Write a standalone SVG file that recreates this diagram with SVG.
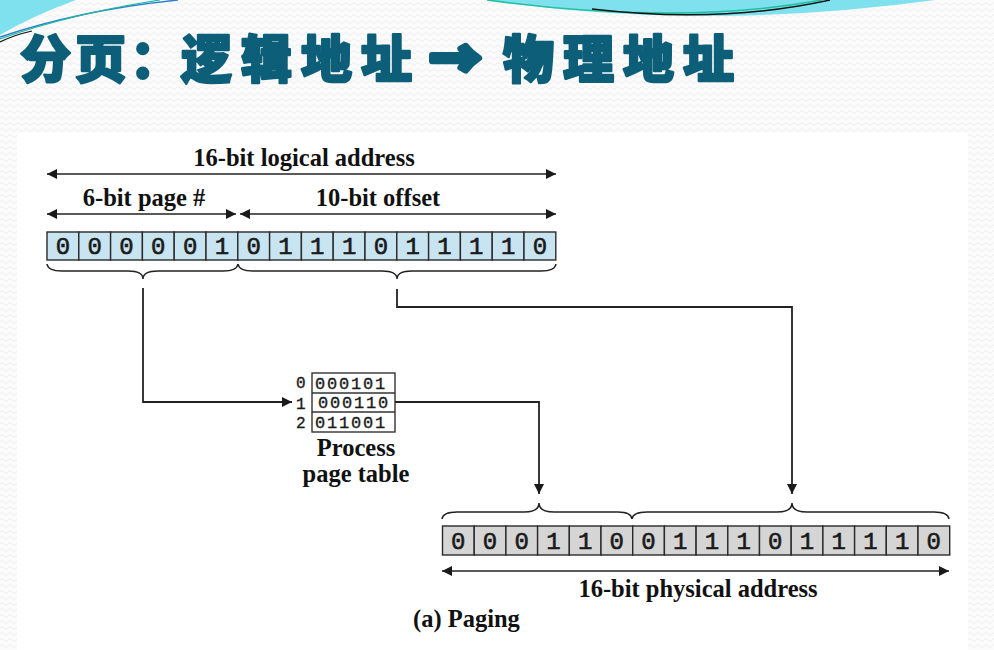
<svg xmlns="http://www.w3.org/2000/svg" width="994" height="650" viewBox="0 0 994 650">
  <defs>
    <pattern id="weave" width="8" height="6" patternUnits="userSpaceOnUse">
      <rect width="8" height="6" fill="#fbfbfb"/>
      <path d="M0 4 Q2 1 4 4 T8 4" fill="none" stroke="#efefef" stroke-width="1"/>
    </pattern>
    <marker id="head" viewBox="0 0 10 10" refX="10" refY="5" markerWidth="11" markerHeight="10" markerUnits="userSpaceOnUse" orient="auto-start-reverse">
      <path d="M0 0 L10 5 L0 10 Z" fill="#1a1a1a"/>
    </marker>
    <style>
      .title { font-family: "Noto Sans CJK SC", "Noto Sans", sans-serif; font-weight: 900; font-size: 51px; fill: #0d5e78; stroke: #0d5e78; stroke-width: 2.4; stroke-linejoin: round; }
      .title-arrow { stroke-width: 6; }
      .lbl { font-family: "Liberation Serif", "Times New Roman", serif; font-weight: bold; font-size: 24.5px; fill: #111; }
      .bit { font-family: "Liberation Mono", "Courier New", monospace; font-size: 24px; fill: #1a1a1a; stroke: #1a1a1a; stroke-width: 0.6; text-anchor: middle; }
      .pt { font-family: "Liberation Mono", "Courier New", monospace; font-size: 17px; fill: #1a1a1a; stroke: #1a1a1a; stroke-width: 0.35; letter-spacing: 1.8px; }
      .idx { font-family: "Liberation Mono", "Courier New", monospace; font-size: 16px; fill: #1a1a1a; stroke: #1a1a1a; stroke-width: 0.35; }
      .cellL { fill: #c8e4f0; stroke: #2a2a2a; stroke-width: 1.4; }
      .cellP { fill: #d5d5d5; stroke: #2a2a2a; stroke-width: 1.4; }
      .brace { fill: none; stroke: #222; stroke-width: 1.5; }
      .dim { fill: none; stroke: #222; stroke-width: 1.6; marker-start: url(#head); marker-end: url(#head); }
      .arrow { fill: none; stroke: #222; stroke-width: 1.8; marker-end: url(#head); }
    </style>
  </defs>

  <!-- slide background -->
  <rect width="994" height="650" fill="url(#weave)"/>

  <!-- top decoration swooshes -->
  <g id="decor">
    <path d="M0 0 L76 0 Q32 16 0 35 Z" fill="#7fe0ee"/>
    <path d="M0 37 Q80 10 178 0" fill="none" stroke="#2a7fd0" stroke-width="1.4"/>
    <path d="M0 39 Q70 14 160 0" fill="none" stroke="#20b8a0" stroke-width="1.2"/>
    <path d="M0 42 Q14 35 32 31" fill="none" stroke="#111" stroke-width="1.2"/>
    <path d="M487 0 Q700 32 935 0 Z" fill="#7fe0ee"/>
    <path d="M487 0 Q680 26 822 0" fill="none" stroke="#20c0a0" stroke-width="1.6"/>
    <path d="M592 9 Q720 24 830 0" fill="none" stroke="#111" stroke-width="1.4"/>
  </g>

  <!-- heading -->
  <g id="heading">
    <text class="title" x="20" y="78" letter-spacing="4">分页：</text>
    <text class="title" x="181" y="78" letter-spacing="9">逻辑地址</text>
    <text class="title title-arrow" x="430" y="78">→</text>
    <text class="title" x="503" y="78" letter-spacing="9">物理地址</text>
  </g>

  <!-- figure panel -->
  <rect x="17" y="133" width="951" height="517" fill="#ffffff"/>

  <!-- dimension labels -->
  <g id="logical-dims">
    <path class="dim" d="M47 174 H556"/>
    <text class="lbl" x="304" y="166" text-anchor="middle">16-bit logical address</text>
    <path class="dim" d="M47 214 H236"/>
    <path class="dim" d="M240 214 H556"/>
    <text class="lbl" x="144" y="206" text-anchor="middle">6-bit page #</text>
    <text class="lbl" x="378" y="206" text-anchor="middle">10-bit offset</text>
  </g>

  <!-- logical address register -->
  <g id="logical-address">
    <rect class="cellL" x="47" y="232" width="31.8" height="28"/>
    <rect class="cellL" x="78.8" y="232" width="31.8" height="28"/>
    <rect class="cellL" x="110.6" y="232" width="31.8" height="28"/>
    <rect class="cellL" x="142.4" y="232" width="31.8" height="28"/>
    <rect class="cellL" x="174.2" y="232" width="31.8" height="28"/>
    <rect class="cellL" x="206" y="232" width="31.8" height="28"/>
    <rect class="cellL" x="237.8" y="232" width="31.8" height="28"/>
    <rect class="cellL" x="269.6" y="232" width="31.8" height="28"/>
    <rect class="cellL" x="301.4" y="232" width="31.8" height="28"/>
    <rect class="cellL" x="333.2" y="232" width="31.8" height="28"/>
    <rect class="cellL" x="365" y="232" width="31.8" height="28"/>
    <rect class="cellL" x="396.8" y="232" width="31.8" height="28"/>
    <rect class="cellL" x="428.6" y="232" width="31.8" height="28"/>
    <rect class="cellL" x="460.4" y="232" width="31.8" height="28"/>
    <rect class="cellL" x="492.2" y="232" width="31.8" height="28"/>
    <rect class="cellL" x="524" y="232" width="31.8" height="28"/>
    <text class="bit" x="62.9" y="254">0</text>
    <text class="bit" x="94.7" y="254">0</text>
    <text class="bit" x="126.5" y="254">0</text>
    <text class="bit" x="158.3" y="254">0</text>
    <text class="bit" x="190.1" y="254">0</text>
    <text class="bit" x="221.9" y="254">1</text>
    <text class="bit" x="253.7" y="254">0</text>
    <text class="bit" x="285.5" y="254">1</text>
    <text class="bit" x="317.3" y="254">1</text>
    <text class="bit" x="349.1" y="254">1</text>
    <text class="bit" x="380.9" y="254">0</text>
    <text class="bit" x="412.7" y="254">1</text>
    <text class="bit" x="444.5" y="254">1</text>
    <text class="bit" x="476.3" y="254">1</text>
    <text class="bit" x="508.1" y="254">1</text>
    <text class="bit" x="539.9" y="254">0</text>
    <path class="brace" d="M47 264 Q48 271 62 271 L128 271 Q143 271 143 279 Q143 271 158 271 L223 271 Q237 271 238 264"/>
    <path class="brace" d="M238 264 Q239 271 253 271 L382 271 Q397 271 397 279 Q397 271 412 271 L541 271 Q555 271 556 264"/>
  </g>

  <!-- process page table -->
  <g id="page-table">
    <rect x="312" y="373" width="83" height="59" fill="#fff" stroke="#333" stroke-width="1.4"/>
    <line x1="312" y1="393" x2="395" y2="393" stroke="#333" stroke-width="1.4"/>
    <line x1="312" y1="412" x2="395" y2="412" stroke="#333" stroke-width="1.4"/>
    <text class="pt" x="315" y="389">000101</text>
    <text class="pt" x="318" y="408">000110</text>
    <text class="pt" x="315" y="428">011001</text>
    <text class="idx" x="296" y="388">0</text>
    <text class="idx" x="296" y="409">1</text>
    <text class="idx" x="296" y="428">2</text>
    <text class="lbl" x="356" y="456" text-anchor="middle">Process</text>
    <text class="lbl" x="356" y="482" text-anchor="middle">page table</text>
  </g>

  <!-- connectors -->
  <g id="connectors">
    <path class="arrow" d="M143 288 V402 H292"/>
    <path class="arrow" d="M395 402 H539 V494"/>
    <path class="arrow" d="M397 289 V307 H792 V494"/>
  </g>

  <!-- physical address register -->
  <g id="physical-address">
    <path class="brace" d="M442 519 Q443 512 457 512 L524 512 Q539 512 539 503 Q539 512 554 512 L618 512 Q631 512 632 519"/>
    <path class="brace" d="M632 519 Q633 512 647 512 L777 512 Q792 512 792 503 Q792 512 807 512 L934 512 Q948 512 949 519"/>
    <rect class="cellP" x="442.5" y="526" width="31.7" height="29"/>
    <rect class="cellP" x="474.2" y="526" width="31.7" height="29"/>
    <rect class="cellP" x="505.9" y="526" width="31.7" height="29"/>
    <rect class="cellP" x="537.6" y="526" width="31.7" height="29"/>
    <rect class="cellP" x="569.3" y="526" width="31.7" height="29"/>
    <rect class="cellP" x="601" y="526" width="31.7" height="29"/>
    <rect class="cellP" x="632.7" y="526" width="31.7" height="29"/>
    <rect class="cellP" x="664.4" y="526" width="31.7" height="29"/>
    <rect class="cellP" x="696.1" y="526" width="31.7" height="29"/>
    <rect class="cellP" x="727.8" y="526" width="31.7" height="29"/>
    <rect class="cellP" x="759.5" y="526" width="31.7" height="29"/>
    <rect class="cellP" x="791.2" y="526" width="31.7" height="29"/>
    <rect class="cellP" x="822.9" y="526" width="31.7" height="29"/>
    <rect class="cellP" x="854.6" y="526" width="31.7" height="29"/>
    <rect class="cellP" x="886.3" y="526" width="31.7" height="29"/>
    <rect class="cellP" x="918" y="526" width="31.7" height="29"/>
    <text class="bit" x="458.3" y="549">0</text>
    <text class="bit" x="490" y="549">0</text>
    <text class="bit" x="521.7" y="549">0</text>
    <text class="bit" x="553.4" y="549">1</text>
    <text class="bit" x="585.1" y="549">1</text>
    <text class="bit" x="616.8" y="549">0</text>
    <text class="bit" x="648.5" y="549">0</text>
    <text class="bit" x="680.2" y="549">1</text>
    <text class="bit" x="711.9" y="549">1</text>
    <text class="bit" x="743.6" y="549">1</text>
    <text class="bit" x="775.3" y="549">0</text>
    <text class="bit" x="807" y="549">1</text>
    <text class="bit" x="838.7" y="549">1</text>
    <text class="bit" x="870.4" y="549">1</text>
    <text class="bit" x="902.1" y="549">1</text>
    <text class="bit" x="933.8" y="549">0</text>
    <path class="dim" d="M442 571 H949"/>
    <text class="lbl" x="698" y="597" text-anchor="middle">16-bit physical address</text>
  </g>

  <text class="lbl" x="413" y="627">(a) Paging</text>
</svg>
